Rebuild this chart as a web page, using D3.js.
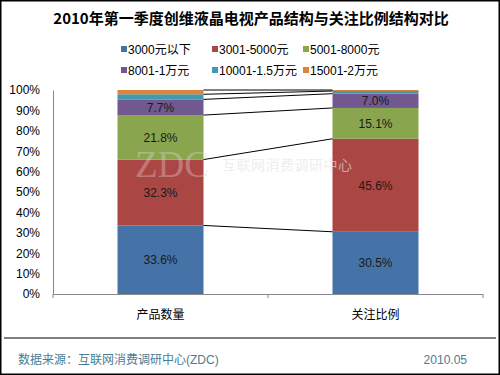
<!DOCTYPE html>
<html><head><meta charset="utf-8">
<script src="https://cdn.jsdelivr.net/npm/d3@7"></script>
<style>
body{margin:0;background:#fff;}
svg{display:block;font-family:"Liberation Sans",Arial,"Noto Sans CJK SC",sans-serif;}
</style></head>
<body><svg id="c" width="500" height="375"></svg>
<script>
const categories = ["产品数量", "关注比例"];
const seriesNames = ["3000元以下", "3001-5000元", "5001-8000元", "8001-1万元", "10001-1.5万元", "15001-2万元"];
const seriesColors = ["#4572A7", "#AA4643", "#89A54E", "#71588F", "#4198AF", "#DB843D"];
const productCount = [33.6, 32.3, 21.8, 7.7, 2.5, 2.1];
const attentionRatio = [30.5, 45.6, 15.1, 7.0, 1.3, 0.5];
const yTicks = [0, 10, 20, 30, 40, 50, 60, 70, 80, 90, 100];
const labeledSeries = [0, 1, 2, 3];

const values = [productCount, attentionRatio];
const svg = d3.select("#c");
const W = 500, H = 375;
const cjk = '"Noto Sans CJK SC",sans-serif';
const latinCjk = '"Liberation Sans",Arial,"Noto Sans CJK SC",sans-serif';

svg.append("rect").attr("x",0.75).attr("y",0.75).attr("width",W-1.5).attr("height",H-1.5)
  .attr("fill","#fff").attr("stroke","#000").attr("stroke-width",1.5);

svg.append("text").attr("x",251).attr("y",24).attr("text-anchor","middle")
  .attr("font-family",cjk).attr("font-weight","bold")
  .attr("font-size",15).attr("fill","#000")
  .text("2010年第一季度创维液晶电视产品结构与关注比例结构对比");

// legend
const legX = [121, 212, 303];
const legY = [49, 70];
seriesNames.forEach((n,i)=>{
  const gx = legX[i%3], gy = legY[Math.floor(i/3)];
  svg.append("rect").attr("x",gx).attr("y",gy-3).attr("width",6).attr("height",6).attr("fill",seriesColors[i]);
  svg.append("text").attr("x",gx+7).attr("y",gy+4.5).attr("font-size",12).attr("fill","#000")
    .attr("font-family",latinCjk).text(n);
});

const x = d3.scaleBand().domain(categories).range([53, 483]).paddingInner(0.6).paddingOuter(0.3);
const y = d3.scaleLinear().domain([0, 100]).range([294, 90]);

const stacks = values.map(v=>{
  let acc = 0;
  return v.map(d=>{ const s = {y0:acc, y1:acc+d, v:d}; acc += d; return s; });
});

// bars
categories.forEach((c,ci)=>{
  stacks[ci].forEach((s,si)=>{
    svg.append("rect").attr("x",x(c)).attr("width",x.bandwidth())
      .attr("y",y(s.y1)).attr("height",y(s.y0)-y(s.y1)).attr("fill",seriesColors[si]);
  });
});

// connector lines
stacks[0].forEach((s,si)=>{
  const s2 = stacks[1][si];
  svg.append("line").attr("x1",x(categories[0])+x.bandwidth()).attr("x2",x(categories[1]))
    .attr("y1",y(s.y1)).attr("y2",y(s2.y1)).attr("stroke","#000").attr("stroke-width",1);
});

// watermark
svg.append("text").attr("x",135).attr("y",177).attr("font-family","'Liberation Serif',serif")
  .attr("font-size",37).attr("fill","#e8d8d8").attr("opacity",0.35).text("ZDC");
svg.append("text").attr("x",222).attr("y",170).attr("font-family",cjk)
  .attr("font-size",14).attr("fill","#e4e4e4").attr("opacity",0.6).attr("letter-spacing",0.5).text("互联网消费调研中心");

// data labels
categories.forEach((c,ci)=>{
  stacks[ci].forEach((s,si)=>{
    if(!labeledSeries.includes(si)) return;
    svg.append("text").attr("x",x(c)+x.bandwidth()/2).attr("y",(y(s.y0)+y(s.y1))/2+4.5)
      .attr("text-anchor","middle").attr("font-size",12).attr("fill","#1a1a1a")
      .text(s.v.toFixed(1)+"%");
  });
});

// y axis
const yAxis = d3.axisLeft(y).tickValues(yTicks).tickFormat(d=>d+"%").tickSize(0).tickPadding(13);
const ga = svg.append("g").attr("transform","translate(53,0)").call(yAxis);
ga.select(".domain").attr("stroke","#888");
ga.selectAll("text").attr("font-size",12).attr("fill","#000").attr("font-family",'"Liberation Sans",Arial,sans-serif');

// x axis
const xAxis = d3.axisBottom(x).tickSize(0).tickPadding(16);
const gxA = svg.append("g").attr("transform","translate(0,294)").call(xAxis);
gxA.select(".domain").attr("stroke","#888").attr("d","M53,0.5H483");
gxA.selectAll("text").attr("font-size",12).attr("fill","#000").attr("font-family",cjk);
[53, 268, 483].forEach(t=>{
  svg.append("line").attr("x1",t).attr("x2",t).attr("y1",294).attr("y2",298).attr("stroke","#888");
});

// footer
svg.append("line").attr("x1",4).attr("x2",496).attr("y1",338).attr("y2",338).attr("stroke","#000").attr("stroke-width",1);
svg.append("text").attr("x",18).attr("y",364).attr("font-size",12).attr("fill","#4a7d95")
  .attr("font-family",latinCjk).text("数据来源：互联网消费调研中心(ZDC)");
svg.append("text").attr("x",467).attr("y",364).attr("text-anchor","end").attr("font-size",12).attr("fill","#4a7d95")
  .text("2010.05");
</script></body></html>
